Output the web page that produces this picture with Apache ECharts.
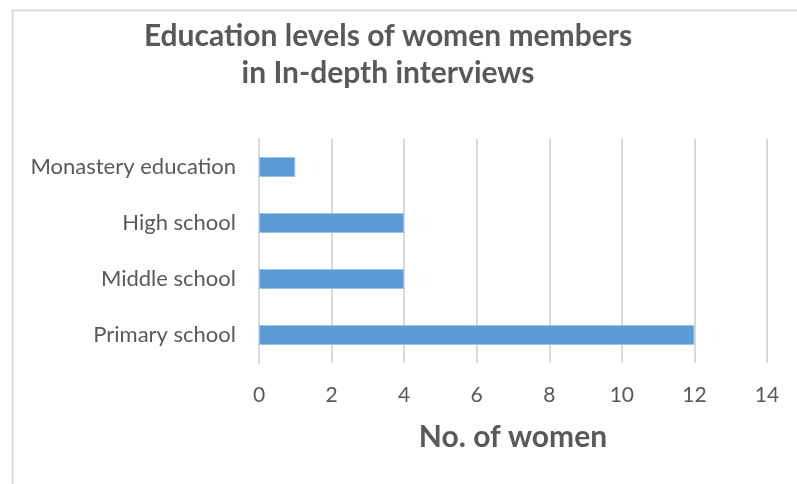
<!DOCTYPE html>
<html>
<head>
<meta charset="utf-8">
<script src="https://cdn.jsdelivr.net/npm/echarts@6/dist/echarts.min.js"></script>
<style>
  html, body { margin: 0; padding: 0; background: #ffffff; }
  #chart { width: 797px; height: 484px; }
</style>
</head>
<body>
<div id="chart"></div>
<script>
// Education levels, listed bottom to top as drawn on the category axis
const categories = ['Primary school', 'Middle school', 'High school', 'Monastery education'];
const womenCounts = [12, 4, 4, 1];
const xTicks = [0, 2, 4, 6, 8, 10, 12, 14];

const textColor = '#595959';
const gridColor = '#d9d9d9';
const fontFamily = 'Lato, "Open Sans", "Noto Sans", sans-serif';

const chart = echarts.init(document.getElementById('chart'), null, { renderer: 'canvas' });

chart.setOption({
  animation: false,
  backgroundColor: '#ffffff',
  textStyle: { fontFamily: fontFamily },
  graphic: [{
    type: 'rect',
    left: 10, top: 8,
    shape: { width: 820, height: 520 },
    style: { fill: 'none', stroke: gridColor, lineWidth: 2 },
    silent: true
  }],
  title: {
    text: 'Education levels of women members\nin In-depth interviews',
    left: 383,
    textAlign: 'center',
    top: 13,
    textStyle: {
      fontFamily: fontFamily,
      fontSize: 30,
      fontWeight: 'bold',
      color: textColor,
      lineHeight: 37
    }
  },
  grid: { left: 259, right: 30, top: 139, bottom: 121, containLabel: false },
  xAxis: {
    type: 'value',
    min: xTicks[0],
    max: xTicks[xTicks.length - 1],
    interval: 2,
    name: 'No. of women',
    nameLocation: 'middle',
    nameGap: 59,
    nameTextStyle: { fontFamily: fontFamily, fontSize: 30, fontWeight: 'bold', color: textColor },
    axisLine: { show: false },
    axisTick: { show: false },
    axisLabel: { color: textColor, fontSize: 21, margin: 22, fontFamily: fontFamily },
    splitLine: { show: true, lineStyle: { color: gridColor, width: 2 } }
  },
  yAxis: {
    type: 'category',
    data: categories,
    axisLine: { show: true, lineStyle: { color: gridColor, width: 2 } },
    axisTick: { show: false },
    axisLabel: { color: textColor, fontSize: 22, margin: 23, fontFamily: fontFamily }
  },
  series: [{
    type: 'bar',
    data: womenCounts,
    barWidth: 20,
    itemStyle: { color: '#5b9bd5', borderColor: '#9dc3e6', borderWidth: 1 }
  }]
});
</script>
</body>
</html>
